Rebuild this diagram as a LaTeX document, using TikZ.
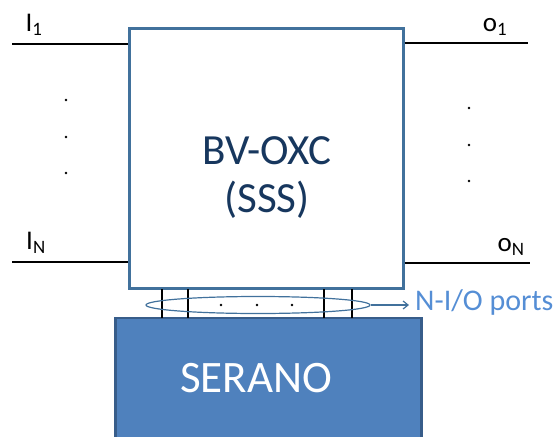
\documentclass[tikz,border=0pt]{standalone}
\usepackage{fontspec}
\setmainfont{Carlito}
\usetikzlibrary{arrows.meta,shapes.geometric}

\definecolor{edgeblue}{HTML}{41719C}
\definecolor{fillblue}{HTML}{4F81BD}
\definecolor{darkblue}{HTML}{385D8A}
\definecolor{navytext}{HTML}{17375E}
\definecolor{portblue}{HTML}{558ED5}

\tikzset{
	port/.style={line width=2pt, black},
	portlabel/.style={inner sep=0pt, font=\fontsize{27}{28}\selectfont},
	vdot/.style={circle, fill, inner sep=1.1pt},
}

\begin{document}
\begin{tikzpicture}[x=1pt, y=-1pt]
		\useasboundingbox (0, 0) rectangle (558, 437);

		% the switch and the controller
		\node (oxc) [draw=edgeblue, line width=3pt, fill=white, minimum width=274pt, minimum height=260pt, inner sep=0pt] at (266, 158) {};
		\node (serano) [draw=darkblue, line width=2.5pt, fill=fillblue, minimum width=306pt, minimum height=122pt, inner sep=0pt] at (268.5, 379) {};
		\node [text=navytext, align=center, font=\fontsize{43}{48}\selectfont] at (267, 178) {BV-OXC\\(SSS)};
		\node [text=white, font=\fontsize{45}{48}\selectfont] at (256, 378) {SERANO};

		% inputs
		\coordinate (i1) at (12, 44);
		\coordinate (iN) at (12, 262);
		\draw [port] (i1) -- (i1 -| oxc.west);
		\draw [port] (iN) -- (iN -| oxc.west);
		\node [portlabel] at (34, 25) {I\textsubscript{1}};
		\node [portlabel] at (36, 243) {I\textsubscript{N}};
		\foreach \y in {100, 137, 173}
			\node [vdot, inner sep=0.9pt] at (66, \y) {};

		% outputs
		\coordinate (o1) at (528, 43);
		\coordinate (oN) at (530, 263);
		\draw [port] (o1 -| oxc.east) -- (o1);
		\draw [port] (oN -| oxc.east) -- (oN);
		\node [portlabel] at (495, 27) {o\textsubscript{1}};
		\node [portlabel] at (511, 247) {o\textsubscript{N}};
		\foreach \y in {108, 145, 181}
			\node [vdot, inner sep=0.9pt] at (469, \y) {};

		% links between switch and controller
		\foreach \x in {162, 188, 324, 352}
			\draw [port] (\x, 289) -- (\x, 318);
		\node (ring) [draw=edgeblue, line width=1.2pt, ellipse, minimum width=224pt, minimum height=17pt, inner sep=0pt] at (258, 305) {};
		\foreach \x in {221, 257, 292}
			\node [vdot, inner sep=1pt] at (\x, 305) {};
		\node (ports) [text=portblue, font=\fontsize{30}{30}\selectfont, anchor=west, inner sep=0pt] at (415, 302) {N-I/O ports};
		\draw [edgeblue, line width=1.2pt, -{Straight Barb[length=5pt, width=8pt]}] (ring.east) -- ([xshift=-6pt] ports.west |- ring.east);
	\end{tikzpicture}
\end{document}
